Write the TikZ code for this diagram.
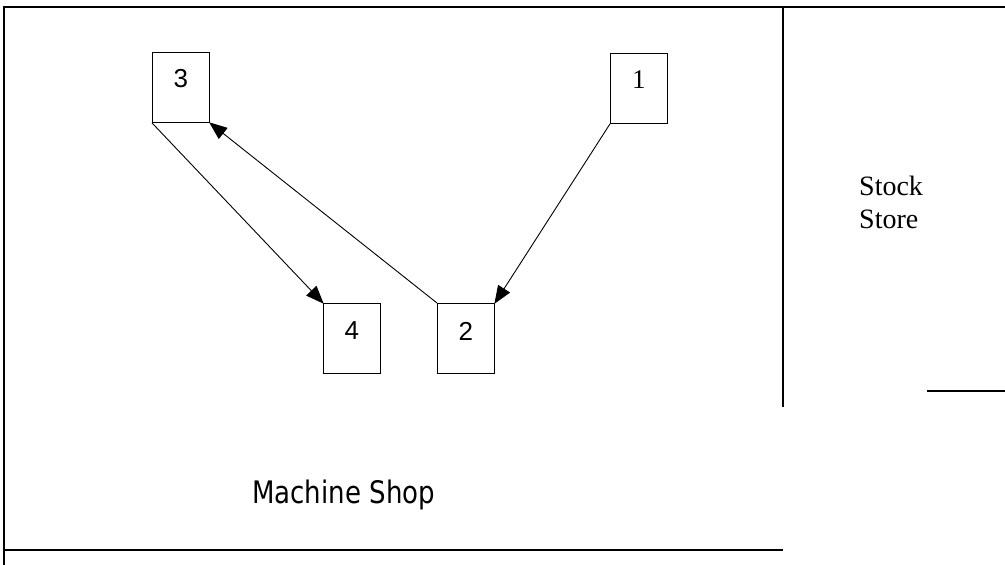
\documentclass[tikz,border=0pt]{standalone}
\usepackage{fontspec}
\usepackage{graphicx}
\setmainfont{Liberation Serif}
\newfontfamily\digitsans{Liberation Sans}
\newfontfamily\labelsans{DejaVu Sans}
\usetikzlibrary{arrows.meta}
\begin{document}
\begin{tikzpicture}[x=1pt,y=-1pt,
  wall/.style={line width=1.2pt},
  machine/.style={draw,line width=0.9pt,minimum width=57pt,minimum height=70pt,anchor=north west,inner sep=0pt},
  digit/.style={inner sep=0pt,font=\digitsans\fontsize{26}{28}\selectfont},
  flow/.style={line width=0.9pt,-{Triangle[length=18pt,width=14pt]},shorten >=-1pt}]
\useasboundingbox (0,0) rectangle (1005,565);
% walls
\coordinate (tl) at (4,7);
\coordinate (tr) at (1005,7);
\coordinate (bl) at (4,565);
\coordinate (msbl) at (4,550);
\coordinate (msbr) at (783,550);
\coordinate (dtop) at (783,7);
\coordinate (dbot) at (783,407);
\coordinate (sl) at (927,391);
\coordinate (sr) at (1005,391);
\draw[wall] (tr) -- (tl) -- (bl);
\draw[wall] (msbl) -- (msbr);
\draw[wall] (dtop) -- (dbot);
\draw[wall] (sl) -- (sr);
% machines
\node[machine] (m3) at (152,52) {};
\node[machine] (m1) at (610,53) {};
\node[machine] (m4) at (323,303) {};
\node[machine] (m2) at (437,303) {};
\node[digit] (t3) at ([yshift=-27pt]m3.north) {3};
\node[digit,font=\fontsize{27}{28}\selectfont] (t1) at ([yshift=-27pt]m1.north) {1};
\node[digit] (t4) at ([yshift=-28pt]m4.north) {4};
\node[digit] (t2) at ([yshift=-28pt]m2.north) {2};
% flows
\draw[flow] (m1.south west) -- (m2.north east);
\draw[flow] (m2.north west) -- (m3.south east);
\draw[flow] (m3.south west) -- (m4.north west);
% labels
\node[anchor=base west,align=left,font=\fontsize{28}{33}\selectfont,inner sep=0pt] (store) at (859,228) {Stock\\Store};
\node[anchor=base west,inner sep=0pt,font=\labelsans\fontsize{31}{34}\selectfont] (shop) at (252,503) {\scalebox{0.84}[1]{Machine Shop}};
\end{tikzpicture}
\end{document}
